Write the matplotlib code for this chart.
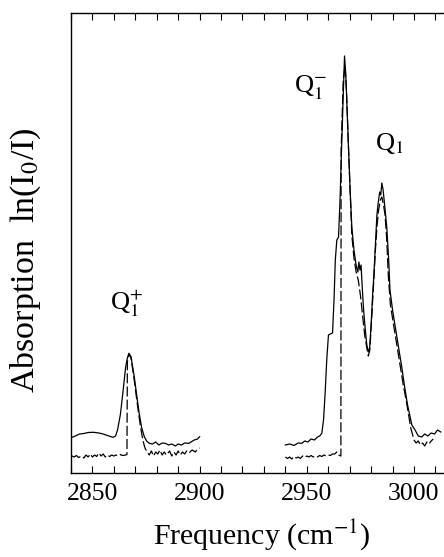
import numpy as np
import matplotlib
matplotlib.use('Agg')
import matplotlib.pyplot as plt
from matplotlib.ticker import MultipleLocator, NullLocator

plt.rcParams['font.family'] = ['Liberation Serif', 'DejaVu Serif']
plt.rcParams['mathtext.fontset'] = 'stix'

# Q1+ band (2840-2900 cm-1), experiment (solid) and simulation (dashed)
freq_left = [2840.5, 2842, 2844, 2846, 2848, 2850.5, 2853, 2855, 2857, 2859.5,
             2860.8, 2861.7, 2863, 2864, 2865.5, 2866.3, 2867, 2868, 2869.5, 2870.5,
             2871.8, 2873, 2874.2, 2875.3, 2876.5, 2878, 2879.5, 2881, 2882.5, 2884,
             2885.5, 2887, 2888.7, 2890, 2891.5, 2893, 2895, 2897.5, 2899, 2900]
abs_left = [0.357, 0.37, 0.39, 0.395, 0.405, 0.407, 0.40, 0.39, 0.375, 0.357,
            0.37, 0.43, 0.58, 0.763, 1.06, 1.15, 1.197, 1.163, 0.963, 0.80,
            0.597, 0.45, 0.363, 0.32, 0.297, 0.29, 0.31, 0.28, 0.30, 0.297,
            0.28, 0.29, 0.27, 0.29, 0.28, 0.30, 0.297, 0.33, 0.34, 0.363]

sim_freq_left = [2840.5, 2841.5, 2842.5, 2843.5, 2845, 2846, 2847, 2848, 2849, 2850,
                 2851, 2852, 2853, 2854, 2855, 2856, 2857, 2858, 2859, 2860,
                 2861, 2862, 2863, 2864, 2865.5, 2866.1, 2866.3, 2867, 2868, 2869.5,
                 2871, 2872.3, 2873.5, 2874.5, 2875.5, 2876.5, 2877.5, 2878.5, 2879.5, 2880.5,
                 2881.5, 2882.5, 2883.5, 2884.5, 2886, 2887, 2888, 2889, 2890, 2891,
                 2892, 2893, 2894, 2895, 2896.5, 2898, 2899, 2900]
sim_left = [0.17, 0.16, 0.175, 0.155, 0.17, 0.15, 0.18, 0.16, 0.19, 0.16,
            0.18, 0.165, 0.20, 0.17, 0.19, 0.16, 0.18, 0.165, 0.18, 0.17,
            0.18, 0.17, 0.185, 0.175, 0.18, 0.185, 1.11, 1.19, 1.15, 0.93,
            0.68, 0.48, 0.33, 0.25, 0.21, 0.18, 0.22, 0.17, 0.21, 0.19,
            0.23, 0.18, 0.21, 0.18, 0.22, 0.17, 0.21, 0.18, 0.22, 0.18,
            0.21, 0.19, 0.22, 0.20, 0.23, 0.21, 0.24, 0.25]

# Q1- and Q1 bands (2940-3012 cm-1)
freq_right = [2940, 2942, 2944, 2946, 2947.7, 2949, 2950.5, 2952, 2953.5, 2955,
              2956, 2957, 2957.8, 2958.5, 2959.3, 2960.1, 2961, 2962, 2962.7, 2963.3,
              2964, 2964.8, 2965.5, 2966.2, 2967, 2967.6, 2968.2, 2968.8, 2969.5, 2970.2,
              2971, 2972, 2973, 2973.8, 2974.3, 2974.8, 2975.3, 2975.8, 2976.5, 2977.3,
              2978, 2978.7, 2979.3, 2980, 2980.7, 2981.3, 2982, 2982.7, 2983.3, 2984,
              2984.5, 2985, 2985.6, 2986.3, 2987.3, 2988.2, 2988.8, 2990, 2991.5, 2993,
              2994.3, 2995.5, 2997, 2999, 3000.5, 3002, 3003.6, 3005, 3006.5, 3008,
              3009.6, 3011, 3012.5]
abs_right = [0.28, 0.29, 0.275, 0.30, 0.297, 0.32, 0.31, 0.34, 0.33, 0.36,
             0.37, 0.397, 0.53, 0.78, 1.13, 1.38, 1.39, 1.40, 1.73, 2.13,
             2.33, 2.36, 2.73, 3.23, 3.78, 4.17, 3.98, 3.63, 3.23, 2.83,
             2.46, 2.23, 2.08, 2.01, 2.11, 2.03, 2.08, 1.88, 1.63, 1.43,
             1.28, 1.21, 1.25, 1.48, 1.78, 1.98, 2.28, 2.58, 2.70, 2.81,
             2.78, 2.90, 2.83, 2.68, 2.46, 2.13, 1.83, 1.63, 1.43, 1.23,
             1.06, 0.88, 0.68, 0.48, 0.43, 0.37, 0.36, 0.39, 0.37, 0.40,
             0.39, 0.43, 0.41]

sim_freq_right = [2940, 2941, 2942, 2943, 2944, 2945, 2946, 2947, 2948, 2949,
                  2950, 2951, 2952, 2953, 2954, 2955, 2956, 2957, 2958, 2959,
                  2960, 2961, 2962, 2963, 2964, 2964.8, 2965.9, 2966, 2966.3, 2967,
                  2967.8, 2968.5, 2969.3, 2970.2, 2971, 2972, 2973, 2974, 2975, 2976,
                  2977, 2978, 2978.7, 2979.4, 2980.2, 2981, 2982, 2982.8, 2983.5, 2984.3,
                  2985, 2985.8, 2986.5, 2987.3, 2988, 2989, 2990.5, 2992, 2993.5, 2995,
                  2996.5, 2998.5, 3000, 3001, 3002, 3003, 3004, 3005, 3006, 3007,
                  3008, 3009]
sim_right = [0.16, 0.145, 0.16, 0.14, 0.165, 0.15, 0.16, 0.145, 0.17, 0.155,
             0.17, 0.16, 0.175, 0.16, 0.17, 0.16, 0.175, 0.165, 0.18, 0.17,
             0.18, 0.175, 0.19, 0.19, 0.21, 0.18, 0.17, 3.23, 3.43, 3.93,
             4.07, 3.83, 3.33, 2.83, 2.38, 2.15, 2.01, 1.93, 1.78, 1.58,
             1.38, 1.25, 1.17, 1.23, 1.53, 1.83, 2.23, 2.48, 2.63, 2.73,
             2.76, 2.68, 2.58, 2.33, 1.98, 1.68, 1.48, 1.28, 1.08, 0.88,
             0.71, 0.45, 0.33, 0.30, 0.32, 0.28, 0.30, 0.27, 0.31, 0.29,
             0.32, 0.34]

labels = [r'Q$_1^{+}$', r'Q$_1^{\mathrm{-}}$', r'Q$_1$']
label_x = [2858.3, 2943.8, 2982.0]
label_y = [1.63, 3.80, 3.23]

fig = plt.figure(figsize=(4.44, 5.57), dpi=100)
ax = fig.add_axes([71 / 444, 1 - 473 / 557, 1 - 71 / 444, 460 / 557])

for fx, fy in [(freq_left, abs_left), (freq_right, abs_right)]:
    ax.plot(fx, fy, color='black', lw=0.9)
for fx, fy in [(sim_freq_left, sim_left), (sim_freq_right, sim_right)]:
    ax.plot(fx, fy, color='black', lw=0.9, dashes=(8, 2.5))

for txt, tx, ty in zip(labels, label_x, label_y):
    ax.text(tx, ty, txt, fontsize=19, ha='left', va='baseline')

ax.set_xlim(2840, 3014)
ax.set_ylim(0, 4.6)
ax.xaxis.set_major_locator(MultipleLocator(50))
ax.xaxis.set_minor_locator(MultipleLocator(10))
ax.yaxis.set_major_locator(NullLocator())
ax.tick_params(axis='x', which='both', direction='in', top=True, length=5,
               width=0.8, labelsize=18.5, pad=7)
ax.spines['right'].set_visible(False)
for s in ['left', 'top', 'bottom']:
    ax.spines[s].set_linewidth(1.0)

fig.text(262 / 444, 1 - 535 / 557, r'Frequency (cm$^{-1}$)', fontsize=21.5,
         ha='center', va='center')
fig.text(26 / 444, 1 - 260 / 557, r'Absorption  ln(I$_0$/I)', fontsize=24.5,
         ha='center', va='center', rotation=90)

fig.savefig('out.png', dpi=100)
